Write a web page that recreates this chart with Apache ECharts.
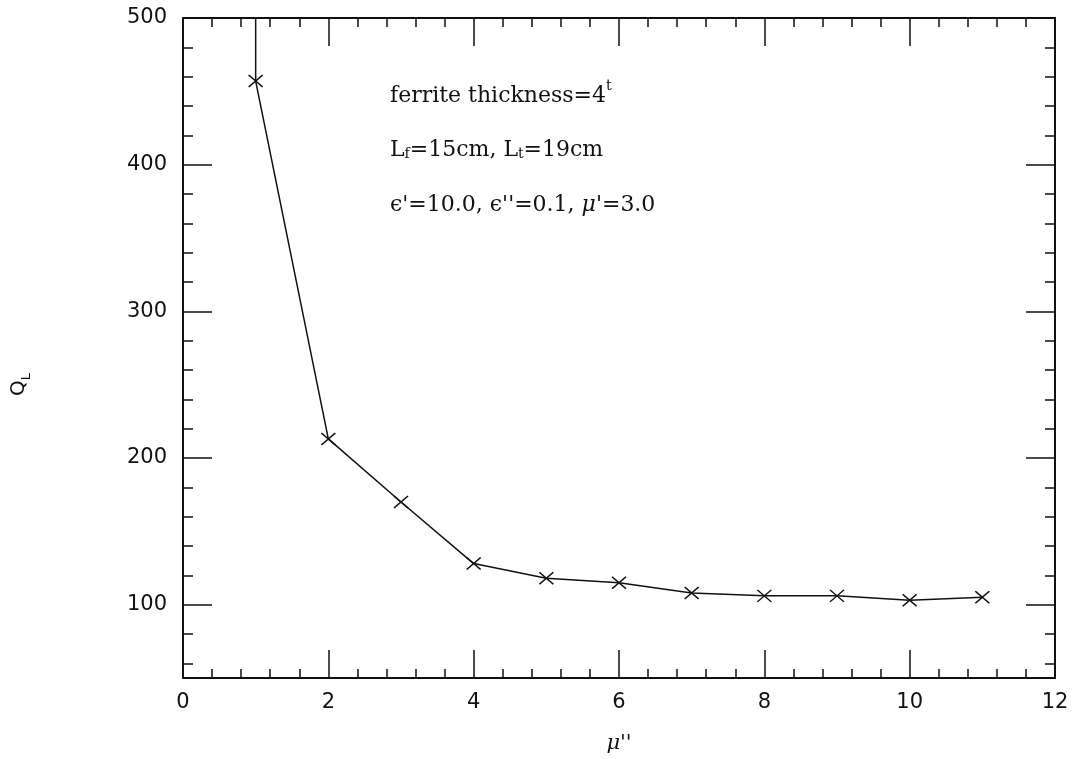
<!DOCTYPE html>
<html>
<head>
<meta charset="utf-8">
<script src="https://cdn.jsdelivr.net/npm/echarts@6/dist/echarts.min.js"></script>
<style>
html,body{margin:0;padding:0;background:#fff;}
#c{width:1077px;height:759px;}
</style>
</head>
<body>
<div id="c"></div>
<script>
// ---- data ----
var muDoublePrime = [1, 1, 2, 3, 4, 5, 6, 7, 8, 9, 10, 11];
var qLoaded = [600, 457, 213, 170, 128, 118, 115, 108, 106, 106, 103, 105];
var xTickLabels = [0, 2, 4, 6, 8, 10, 12];
var yMajorTicks = [100, 200, 300, 400, 500];
var yMinorTicks = [60, 80, 120, 140, 160, 180, 220, 240, 260, 280, 320, 340, 360, 380, 420, 440, 460, 480];
var annotations = [
  '{n|ferrite thickness=4}{sup|t}',
  '{n|L}{sub|f}{n|=15cm, L}{sub|t}{n|=19cm}',
  "{n|ϵ'=10.0, ϵ''=0.1, }{it|μ}{n|'=3.0}"
];

var seriesData = muDoublePrime.map(function (x, i) {
  var d = { value: [x, qLoaded[i]] };
  if (qLoaded[i] > 500) { d.symbol = 'none'; }
  return d;
});

var black = '#111';
var labelFont = { fontFamily: 'DejaVu Sans', fontSize: 21, color: black };

function xAx(pos, showLabel) {
  return {
    type: 'value', position: pos, min: 0, max: 12, interval: 2,
    axisLine: { show: true, lineStyle: { color: black, width: 2 } },
    axisTick: { show: true, inside: true, length: 28, lineStyle: { color: black, width: 1.5 } },
    minorTick: { show: true, splitNumber: 5, length: 9, lineStyle: { color: black, width: 1.5 } },
    axisLabel: Object.assign({ show: showLabel, margin: 14 }, labelFont),
    splitLine: { show: false }, minorSplitLine: { show: false }
  };
}
function yAx(pos, ticks, len, showLine, showLabel) {
  return {
    type: 'value', position: pos, min: 50, max: 500,
    axisLine: { show: showLine, onZero: false, lineStyle: { color: black, width: 2 } },
    axisTick: { show: true, inside: true, length: len, customValues: ticks, lineStyle: { color: black, width: 1.5 } },
    axisLabel: Object.assign({ show: showLabel, margin: 16, customValues: ticks }, labelFont),
    splitLine: { show: false }
  };
}

var xAxes = [xAx('bottom', true), xAx('top', false)];
xAxes[0].name = "μ''";
xAxes[0].nameLocation = 'middle';
xAxes[0].nameGap = 55;
xAxes[0].nameTextStyle = { fontFamily: 'DejaVu Serif', fontStyle: 'italic', fontSize: 21, color: black };

var yAxes = [
  yAx('left', yMajorTicks, 29, true, true),
  yAx('left', yMinorTicks, 10, false, false),
  yAx('right', yMajorTicks, 29, true, false),
  yAx('right', yMinorTicks, 10, false, false)
];

var richStyle = {
  n: { fontFamily: 'DejaVu Serif', fontSize: 22, fill: black, lineHeight: 28, verticalAlign: 'bottom' },
  sup: { fontFamily: 'DejaVu Serif', fontSize: 14, fill: black, lineHeight: 14, verticalAlign: 'top' },
  sub: { fontFamily: 'DejaVu Serif', fontSize: 14, fill: black, lineHeight: 14, verticalAlign: 'bottom' },
  it: { fontFamily: 'DejaVu Serif', fontStyle: 'italic', fontSize: 22, fill: black, lineHeight: 28, verticalAlign: 'bottom' }
};
var annotTop = [79, 139, 194];
var graphics = annotations.map(function (t, i) {
  return {
    type: 'text', left: 390, top: annotTop[i], z: 10,
    style: { text: t, rich: richStyle, fill: black }
  };
});
graphics.push({
  type: 'text', x: 9, y: 396, rotation: Math.PI / 2, z: 10,
  style: {
    text: '{q|Q}{s|L}', fill: black,
    rich: {
      q: { fontFamily: 'DejaVu Sans', fontSize: 20, fill: black, lineHeight: 24, verticalAlign: 'top' },
      s: { fontFamily: 'DejaVu Sans', fontSize: 13, fill: black, lineHeight: 13, verticalAlign: 'bottom' }
    }
  }
});

var chart = echarts.init(document.getElementById('c'), null, { renderer: 'canvas' });
chart.setOption({
  backgroundColor: '#fff',
  animation: false,
  grid: { left: 183, right: 22, top: 18, bottom: 77, containLabel: false },
  xAxis: xAxes,
  yAxis: yAxes,
  graphic: graphics,
  series: [{
    type: 'line',
    xAxisIndex: 0, yAxisIndex: 0,
    data: seriesData,
    clip: true,
    symbol: 'path://M0,0L10,10M10,0L0,10',
    symbolSize: [14, 12],
    lineStyle: { color: black, width: 1.5 },
    itemStyle: { color: 'none', borderColor: black, borderWidth: 1.5 }
  }]
});
</script>
</body>
</html>
